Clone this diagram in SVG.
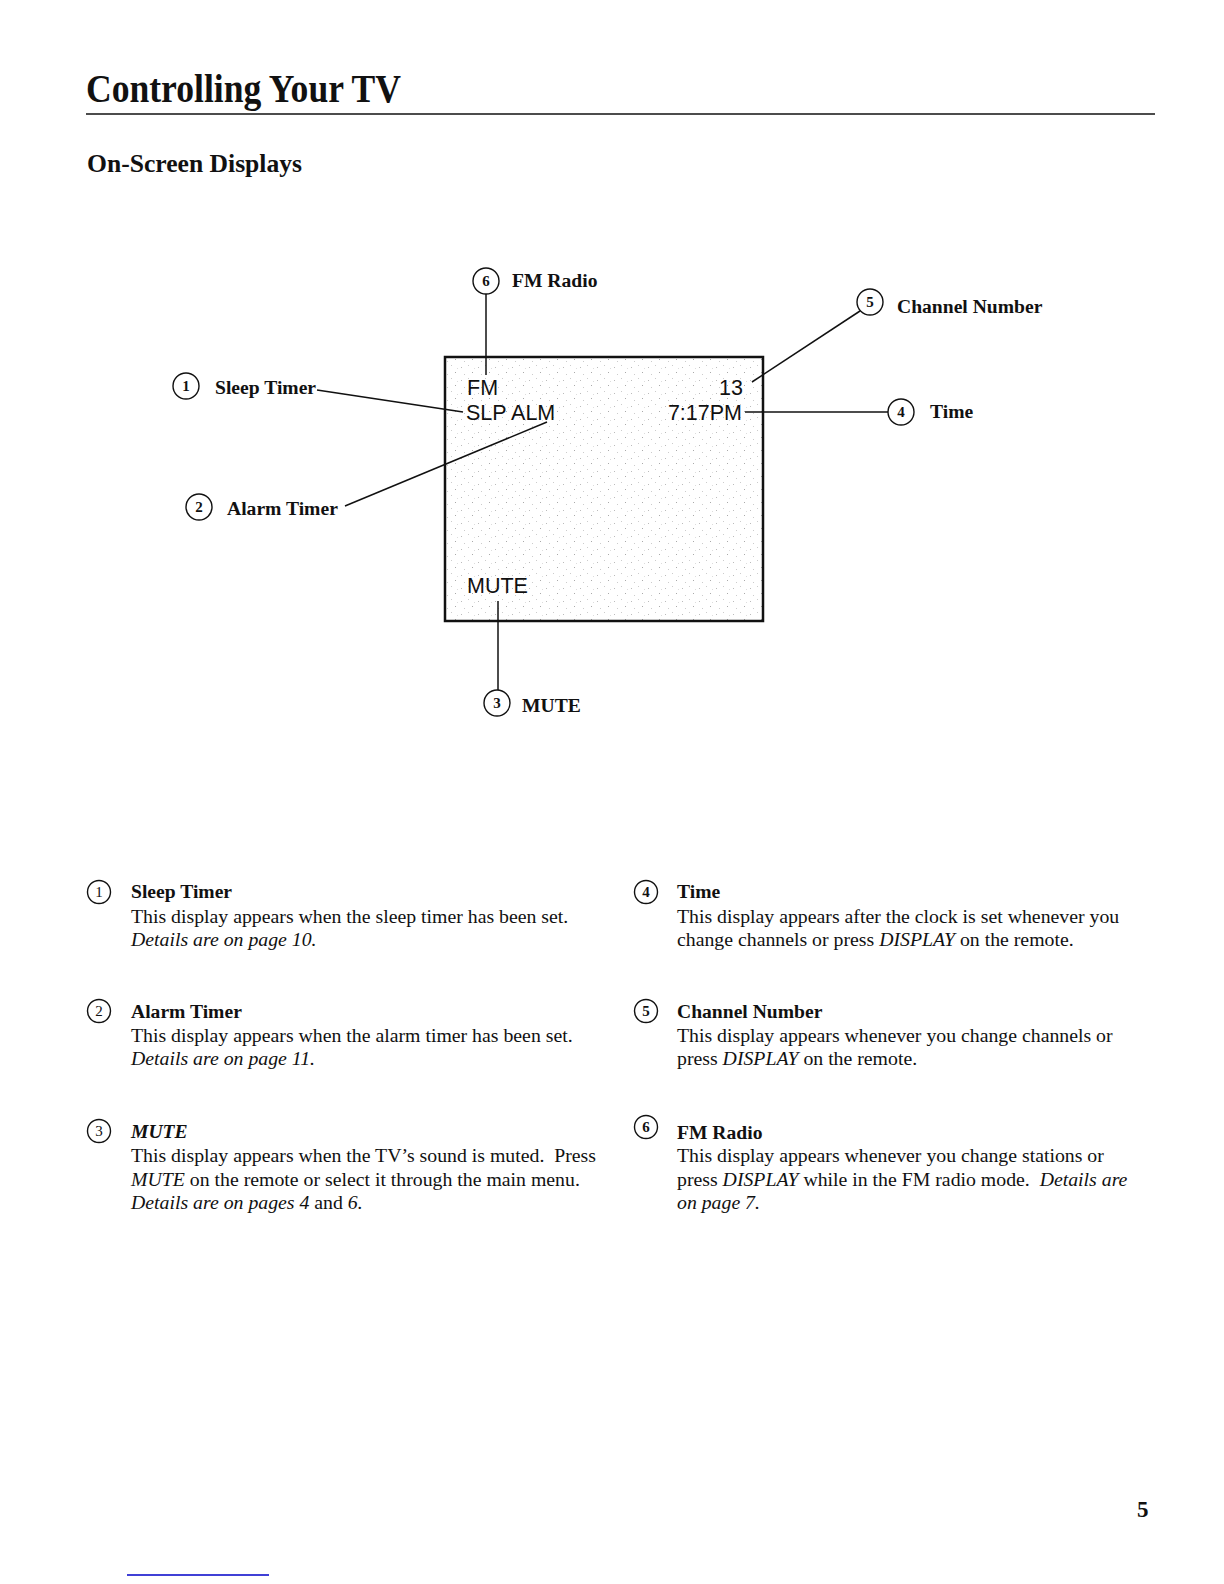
<svg xmlns="http://www.w3.org/2000/svg" width="1224" height="1584" viewBox="0 0 1224 1584">
<style>
.serif{font-family:"Liberation Serif","Times New Roman",serif;fill:#111}
.b{font-weight:bold}
.i{font-style:italic}
.lbl{font-family:"Liberation Serif","Times New Roman",serif;font-weight:bold;font-size:19.6px;fill:#111}
.body{font-family:"Liberation Serif","Times New Roman",serif;font-size:19.8px;fill:#111}
.scr{font-family:"Liberation Sans",Arial,sans-serif;font-size:21.5px;fill:#111}
.num{font-family:"Liberation Serif","Times New Roman",serif;font-size:15px;font-weight:bold;fill:#111;text-anchor:middle}
.numr{font-family:"Liberation Serif","Times New Roman",serif;font-size:15px;fill:#111;text-anchor:middle}
.circ{fill:#fff;stroke:#111;stroke-width:1.4}
.conn{stroke:#111;stroke-width:1.5;fill:none}
</style>
<defs>
<pattern id="noise" width="17" height="13" patternUnits="userSpaceOnUse">
<rect x="2" y="3" width="1" height="1" fill="#bbb"/>
<rect x="9" y="1" width="1" height="1" fill="#ccc"/>
<rect x="13" y="8" width="1" height="1" fill="#aaa"/>
<rect x="5" y="10" width="1" height="1" fill="#ccc"/>
<rect x="15" y="4" width="1" height="1" fill="#ddd"/>
</pattern>
</defs>
<rect width="1224" height="1584" fill="#fff"/>

<g id="header">
<text class="serif b" x="86" y="102" font-size="40" textLength="315" lengthAdjust="spacingAndGlyphs">Controlling Your TV</text>
<line x1="86" y1="114" x2="1155" y2="114" stroke="#111" stroke-width="1.5"/>
<text class="serif b" x="87" y="172" font-size="26" textLength="215" lengthAdjust="spacingAndGlyphs">On-Screen Displays</text>
</g>

<g id="screen">
<rect x="445" y="357" width="318" height="264" fill="url(#noise)" stroke="#111" stroke-width="2.5"/>
<text class="scr" x="467" y="395">FM</text>
<text class="scr" x="466" y="420">SLP ALM</text>
<text class="scr" x="743" y="395" text-anchor="end">13</text>
<text class="scr" x="742" y="420" text-anchor="end">7:17PM</text>
<text class="scr" x="467" y="593">MUTE</text>
</g>

<g id="connectors">
<line class="conn" x1="486" y1="294" x2="486" y2="375"/>
<line class="conn" x1="317" y1="390" x2="463" y2="412"/>
<line class="conn" x1="345" y1="506" x2="547" y2="422"/>
<line class="conn" x1="752" y1="382" x2="860" y2="311"/>
<line class="conn" x1="745" y1="412" x2="888" y2="412"/>
<line class="conn" x1="498" y1="601" x2="498" y2="690"/>
</g>

<g id="callout-6">
<circle class="circ" cx="486" cy="281" r="13"/>
<text class="num" x="486" y="286">6</text>
<text class="lbl" x="512" y="287">FM Radio</text>
</g>
<g id="callout-1">
<circle class="circ" cx="186" cy="386" r="13"/>
<text class="num" x="186" y="391">1</text>
<text class="lbl" x="215" y="394">Sleep Timer</text>
</g>
<g id="callout-2">
<circle class="circ" cx="199" cy="507" r="13"/>
<text class="num" x="199" y="512">2</text>
<text class="lbl" x="227" y="515">Alarm Timer</text>
</g>
<g id="callout-5">
<circle class="circ" cx="870" cy="302" r="13"/>
<text class="num" x="870" y="307">5</text>
<text class="lbl" x="897" y="313">Channel Number</text>
</g>
<g id="callout-4">
<circle class="circ" cx="901" cy="412" r="13"/>
<text class="num" x="901" y="417">4</text>
<text class="lbl" x="930" y="418">Time</text>
</g>
<g id="callout-3">
<circle class="circ" cx="497" cy="703" r="13"/>
<text class="num" x="497" y="708">3</text>
<text class="lbl" x="522" y="712">MUTE</text>
</g>

<g id="desc-1">
<circle class="circ" cx="99" cy="892" r="11.5"/>
<text class="numr" x="99" y="897">1</text>
<text class="lbl" x="131" y="898">Sleep Timer</text>
<text class="body" x="131" y="923">This display appears when the sleep timer has been set.</text>
<text class="body i" x="131" y="946">Details are on page 10.</text>
</g>
<g id="desc-2">
<circle class="circ" cx="99" cy="1011" r="11.5"/>
<text class="numr" x="99" y="1016">2</text>
<text class="lbl" x="131" y="1018">Alarm Timer</text>
<text class="body" x="131" y="1042">This display appears when the alarm timer has been set.</text>
<text class="body i" x="131" y="1065">Details are on page 11.</text>
</g>
<g id="desc-3">
<circle class="circ" cx="99" cy="1131" r="11.5"/>
<text class="numr" x="99" y="1136">3</text>
<text class="lbl i" x="131" y="1138">MUTE</text>
<text class="body" x="131" y="1162">This display appears when the TV’s sound is muted.&#160; Press</text>
<text class="body" x="131" y="1186"><tspan font-style="italic">MUTE</tspan> on the remote or select it through the main menu.</text>
<text class="body" x="131" y="1209"><tspan font-style="italic">Details are on pages 4</tspan> and <tspan font-style="italic">6.</tspan></text>
</g>
<g id="desc-4">
<circle class="circ" cx="646" cy="892" r="11.5"/>
<text class="num" x="646" y="897">4</text>
<text class="lbl" x="677" y="898">Time</text>
<text class="body" x="677" y="923">This display appears after the clock is set whenever you</text>
<text class="body" x="677" y="946">change channels or press <tspan font-style="italic">DISPLAY</tspan> on the remote.</text>
</g>
<g id="desc-5">
<circle class="circ" cx="646" cy="1011" r="11.5"/>
<text class="num" x="646" y="1016">5</text>
<text class="lbl" x="677" y="1018">Channel Number</text>
<text class="body" x="677" y="1042">This display appears whenever you change channels or</text>
<text class="body" x="677" y="1065">press <tspan font-style="italic">DISPLAY</tspan> on the remote.</text>
</g>
<g id="desc-6">
<circle class="circ" cx="646" cy="1127" r="11.5"/>
<text class="num" x="646" y="1132">6</text>
<text class="lbl" x="677" y="1139">FM Radio</text>
<text class="body" x="677" y="1162">This display appears whenever you change stations or</text>
<text class="body" x="677" y="1186">press <tspan font-style="italic">DISPLAY</tspan> while in the FM radio mode.&#160; <tspan font-style="italic">Details are</tspan></text>
<text class="body i" x="677" y="1209">on page 7.</text>
</g>

<g id="footer">
<text class="serif b" x="1137" y="1517" font-size="23">5</text>
<line x1="127" y1="1575" x2="269" y2="1575" stroke="#0000c8" stroke-width="1.5"/>
</g>
</svg>
